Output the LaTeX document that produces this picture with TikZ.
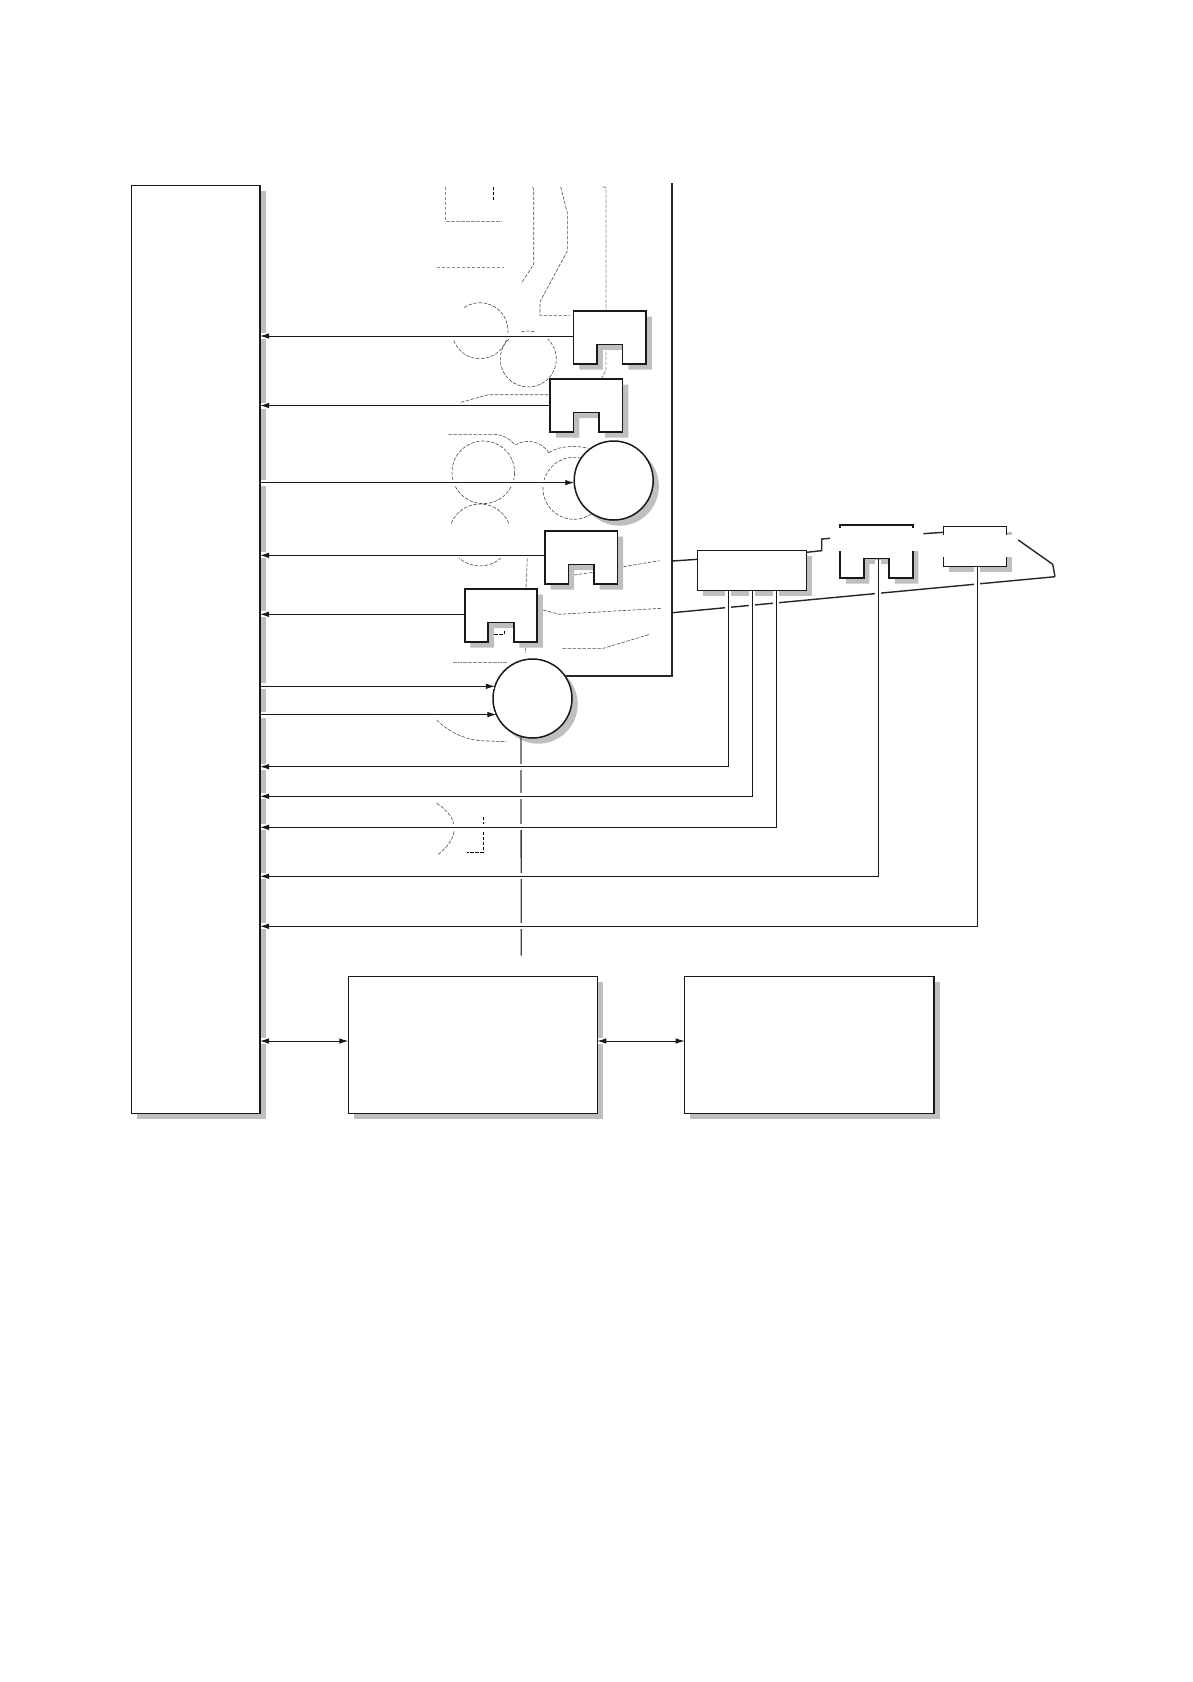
\documentclass[tikz,border=0pt]{standalone}
\usepackage{xcolor}
\usetikzlibrary{arrows.meta,shadows}
\definecolor{shgray}{gray}{0.75}
\tikzset{
  dshadow/.style={drop shadow={shadow xshift=5.7pt, shadow yshift=-5.7pt, opacity=1, fill=shgray}},
  blk/.style={draw=black!90, fill=white, line width=1.5pt, inner sep=0pt, outer sep=0pt, dshadow},
  sens/.style={inner sep=0pt, outer sep=0pt, minimum width=72.5pt, minimum height=53pt},
  motor/.style={blk, circle, minimum size=79pt},
  outl/.style={draw=black!85, line width=1.4pt},
  ghost/.style={draw=black!70, line width=.6pt, dash pattern=on 3.5pt off 1.5pt},
  ghostg/.style={draw=black!45, line width=.9pt, dash pattern=on 3.5pt off 1.5pt},
  mask/.style={fill=white, draw=none},
  halo/.style={preaction={draw=white, line width=6pt, -, shorten >=1pt, shorten <=1pt}},
  sig/.style={draw=black!90, line width=.9pt, -{Latex[length=9pt,width=5.5pt]}, halo},
  bisig/.style={draw=black!90, line width=.9pt, {Latex[length=9pt,width=5.5pt]}-{Latex[length=9pt,width=5.5pt]}, halo},
  shaft/.style={draw=black!75, line width=1.3pt}
}
\newcommand{\sensorpath}{-- ++(72.5,0) -- ++(0,53) -- ++(-23.5,0) -- ++(0,-19.5) -- ++(-25.5,0) -- ++(0,19.5) -- ++(-23.5,0) -- cycle}
\newcommand{\sensor}[3]{
  \node[sens] (#1) at (#2,#3) {};
  \fill[shgray] (#2+5.7-36.25,#3+5.7-26.5) \sensorpath;
  \draw[line width=1.6pt, draw=black!90, fill=white] (#2-36.25,#3-26.5) \sensorpath;
}
\begin{document}
\begin{tikzpicture}[x=1pt,y=-1pt]
\useasboundingbox (0,0) rectangle (1192,1682);
% mechanism behind the blocks
\draw[ghostg] (445.7,186.7) -- (445.7,221.3) -- (501.7,221.3);
\draw[ghost, draw=black] (493.3,186.7) -- (493.3,200);
\draw[ghost] (532.7,186.7) -- (533.7,190) -- (533.7,264.3) -- (521.3,283.3);
\draw[ghost] (560.7,186.7) -- (567.3,212.7) -- (567.3,251) -- (540,301.7) -- (540,315.3) -- (570,315.3);
\draw[ghostg] (602.7,186.7) -- (606,187.7) -- (606,310);
\draw[ghostg] (606,351.7) -- (606,370) -- (601.7,378);
\draw[ghostg] (436.7,267.7) -- (504,267.7);
\draw[ghost] (480,330.7) ++(-124:28) arc[start angle=-124, end angle=164, radius=28];
\draw[ghost] (528.3,359) ++(-48:28) arc[start angle=-48, end angle=228, radius=28];
\draw[ghost] (528.3,359) ++(-105:28) arc[start angle=-105, end angle=-75, radius=28];
\draw[ghost] (461,402.3) -- (488.3,394.7) -- (550,394.7);
\draw[ghost] (448.3,434.3) -- (493.3,434.3) .. controls (503,434.3) and (510,439) .. (515,445);
\draw[ghost] (515,445) .. controls (525,439) and (540,440) .. (549,452.7);
\draw[ghost] (549,452.7) .. controls (558,446) and (575,445) .. (588.3,448.3);
\draw[ghost] (483.3,472.3) circle[radius=31.3];
\draw[ghost] (574,488.3) circle[radius=31];
\draw[ghost] (480,535) ++(-158:31) arc[start angle=-158, end angle=-22, radius=31];
\draw[ghost] (480,535) ++(47:31) arc[start angle=47, end angle=133, radius=31];
\draw[ghostg] (527.3,558.3) -- (526,588.3);
\draw[ghost] (574,575) -- (593.3,572.3);
\draw[ghost] (623.3,566.7) -- (659.3,560.7);
\draw[ghost] (543.3,610) -- (559.3,614.3) -- (661.7,608.3);
\draw[ghost] (562.3,648.3) -- (603.3,648.3) -- (650,634.3);
\draw[ghostg] (453.3,662) -- (508.3,662);
\draw[ghostg] (525.3,647.3) -- (525.3,653.3);
\draw[ghost] (436.7,720) .. controls (450,733) and (465,739) .. (480,740.7) -- (506.7,741.7);
\draw[ghost] (436.7,803.3) .. controls (460,818) and (460,838) .. (437.3,855);
\draw[ghost, draw=black] (483.3,816.7) -- (483.3,852.3) -- (467.3,852.3);
\draw[outl] (672,183.3) -- (672,676) -- (565,676);
\node[blk, minimum width=128.3pt, minimum height=927.6pt] (ctrl) at (195.85,649.5) {};
\node[blk, minimum width=249pt, minimum height=136.6pt] (boxa) at (472.8,1045) {};
\node[blk, minimum width=249.3pt, minimum height=136.6pt] (boxb) at (809.35,1045) {};
\sensor{sa}{609.85}{337.5}
\sensor{sb}{586.35}{405.5}
\sensor{sc}{581.15}{557.35}
\sensor{sd}{501}{615.5}
\node[motor] (ma) at (613.7,480.5) {};
\node[motor] (mb) at (532.5,698.5) {};
\draw[ghost, draw=black] (494,634) -- (504,634) -- (504,629);
\draw[outl] (672.3,561) -- (697.7,559.3);
\draw[outl] (1055,576.7) -- (672.3,612.7);
\node[blk, minimum width=108.6pt, minimum height=39.6pt] (rel) at (752,570.5) {};
\sensor{se}{876.5}{551.35}
\fill[mask] (835,528.2) rectangle (919,550.5);
\node[blk, minimum width=63pt, minimum height=39.6pt] (lamp) at (975.2,546.5) {};
\fill[mask] (940,535) rectangle (1013,557);
\draw[outl] (rel.north east |- 0,552.3) -- (821.7,550.7) -- (821.7,539) -- (830,538.3);
\draw[outl] (923.3,533.7) -- (lamp.north west |- 0,532.3);
\draw[outl] (1018.3,540) -- (1052.7,564.3) -- (1055,576.7);
\coordinate (axend) at (521.3,955.7);
\draw[shaft] (mb.253.5) -- (axend);
\foreach \n/\d in {sa/1.5,sb/0,sc/2,sd/1.2}
  \draw[sig] ([yshift=\d pt]\n.west) -- ([yshift=\d pt]\n.west -| ctrl.east);
\draw[sig] (ma.183.2 -| ctrl.east) -- (ma.183.2);
\draw[sig] (mb.162.6 -| ctrl.east) -- (mb.162.6);
\draw[sig] (mb.204.2 -| ctrl.east) -- (mb.204.2);
\foreach \d/\y in {-23.7/766.7,.3/796.3,24.3/827.3}
  \draw[sig] ([xshift=\d pt]rel.south) |- (ctrl.east |- 0,\y);
\draw[sig] ([shift={(1.8pt,-7.6pt)}]se.center) |- (ctrl.east |- 0,876.3);
\draw[sig] ([xshift=2.1pt]lamp.south) |- (ctrl.east |- 0,926.3);
\draw[bisig] (ctrl.east |- 0,1041) -- (boxa.west |- 0,1041);
\draw[bisig] (boxa.east |- 0,1041) -- (boxb.west |- 0,1041);
\end{tikzpicture}
\end{document}
